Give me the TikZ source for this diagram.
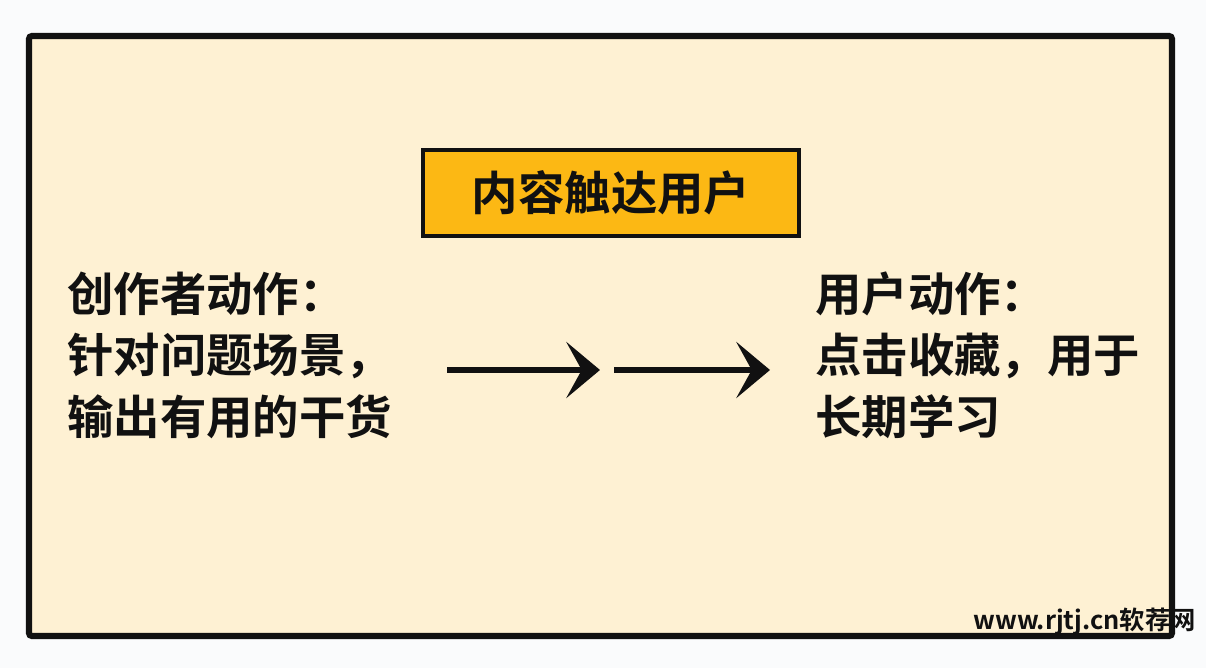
\documentclass[tikz,border=0pt]{standalone}
\usepackage{fontspec}
\newfontfamily\cjk{Noto Sans CJK SC Bold}
\usetikzlibrary{arrows.meta}
\usetikzlibrary{positioning}
\definecolor{pagebg}{HTML}{FAFBFC}
\definecolor{cream}{HTML}{FEF1D3}
\definecolor{goldbox}{HTML}{FCB814}
\definecolor{inkblack}{HTML}{111111}
\tikzset{
  bigtext/.style={font=\cjk\fontsize{33}{43.7}\selectfont,text=inkblack,inner sep=0pt,align=left},
  flowarrow/.style={draw=inkblack,line width=3.6pt,-{Stealth[length=24pt,width=40pt,inset=11pt]}},
}
\begin{document}
\begin{tikzpicture}[x=0.025cm,y=-0.025cm]
\fill[pagebg] (0,0) rectangle (1206,668);
\useasboundingbox (0,0) rectangle (1206,668);
\draw[fill=cream,draw=inkblack,line width=4.3pt,rounded corners=2pt] (29,36) rectangle (1172,636);

\node[draw=inkblack,fill=goldbox,line width=2.2pt,minimum width=376*0.025cm,minimum height=86*0.025cm,
      font=\cjk\fontsize{33}{40}\selectfont,text=inkblack] (reach) at (611,193) {内容触达用户};

\node[bigtext,anchor=west] (creator) at (67,355) {创作者动作：\\针对问题场景，\\输出有用的干货};
\node[bigtext,anchor=west] (reader) at (815,355) {用户动作：\\点击收藏，用于\\长期学习};

\coordinate (a1s) at (447,370);
\coordinate (a1e) at (600,370);
\coordinate (a2s) at (614,370);
\coordinate (a2e) at (770,370);
\draw[flowarrow] (a1s) -- (a1e);
\draw[flowarrow] (a2s) -- (a2e);

\node[font=\cjk\fontsize{18}{22}\selectfont,text=inkblack,anchor=east,inner sep=0pt] (mark) at (1196,622) {www.rjtj.cn软荐网};
\end{tikzpicture}
\end{document}
